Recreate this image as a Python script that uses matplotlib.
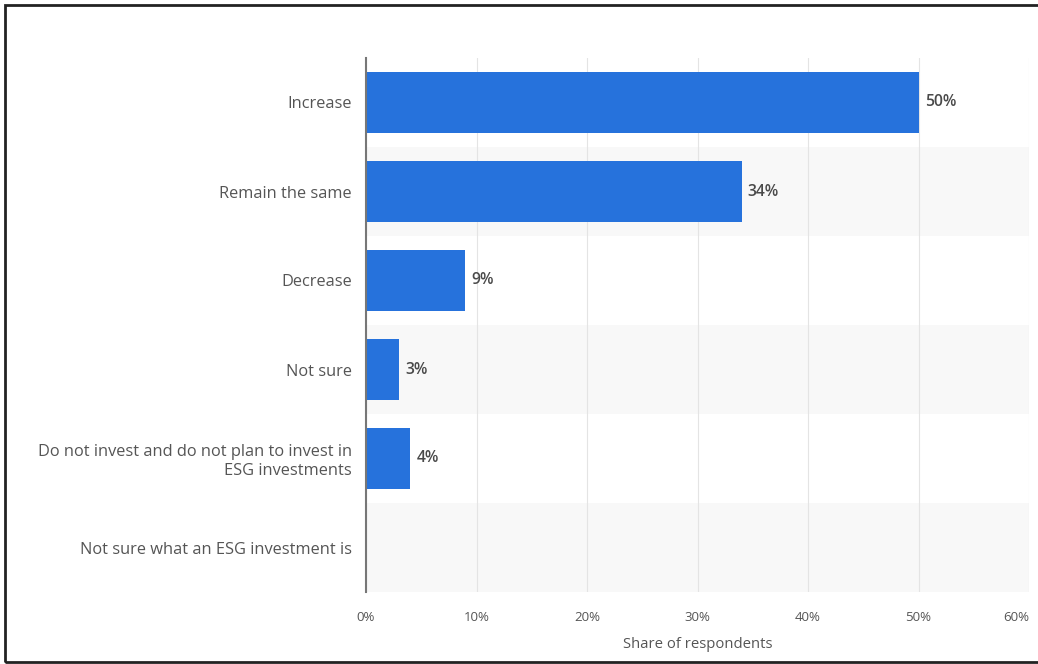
import matplotlib.pyplot as plt
from matplotlib.patches import Rectangle

# data
categories = ['Increase', 'Remain the same', 'Decrease', 'Not sure',
              'Do not invest and do not plan to invest in\nESG investments',
              'Not sure what an ESG investment is']
shares = [50, 34, 9, 3, 4, 0]
x_ticks = [0, 10, 20, 30, 40, 50, 60]

BAR_COLOR = '#2672dc'
TEXT_COLOR = '#555555'

plt.rcParams['font.family'] = ['Open Sans', 'DejaVu Sans']

fig = plt.figure(figsize=(10.38, 6.64), dpi=100)
ax = fig.add_axes([366 / 1038, 1 - 592 / 664, 663 / 1038, 534 / 664])

n = len(categories)
ypos = list(range(n))

# alternating row bands
for i in ypos:
    if i % 2 == 1:
        ax.axhspan(i - 0.5, i + 0.5, color='#f8f8f8', zorder=0, lw=0)

ax.barh(ypos, shares, height=0.69, color=BAR_COLOR, zorder=3)

for y, v in zip(ypos, shares):
    if v > 0:
        ax.text(v + 0.55, y, f'{v}%', va='center', ha='left', fontsize=11.3,
                fontweight='semibold', color='#4a4a4a', zorder=4)

ax.set_ylim(n - 0.5, -0.5)
ax.set_xlim(0, 60)
ax.set_yticks(ypos)
ax.set_yticklabels(categories, fontsize=11.8, color=TEXT_COLOR)
ax.set_xticks(x_ticks)
ax.set_xticklabels([f'{t}%' for t in x_ticks], fontsize=9.5, color=TEXT_COLOR)
ax.get_xticklabels()[-1].set_horizontalalignment('right')
ax.tick_params(axis='both', length=0)
ax.tick_params(axis='y', pad=10)
ax.tick_params(axis='x', pad=14)
ax.set_xlabel('Share of respondents', fontsize=10.7, color=TEXT_COLOR, labelpad=9)

ax.grid(axis='x', color='#e4e4e4', linewidth=0.8, zorder=1)
ax.set_axisbelow(True)
for side in ['top', 'right', 'bottom']:
    ax.spines[side].set_visible(False)
ax.spines['left'].set_color('#777777')
ax.spines['left'].set_linewidth(1.5)
ax.spines['left'].set_zorder(5)

# outer frame
fig.patches.append(Rectangle((5 / 1038, 2 / 664), 1040 / 1038, 657 / 664,
                             transform=fig.transFigure, fill=False,
                             edgecolor='#222222', linewidth=2))

fig.savefig('out.png', dpi=100)
